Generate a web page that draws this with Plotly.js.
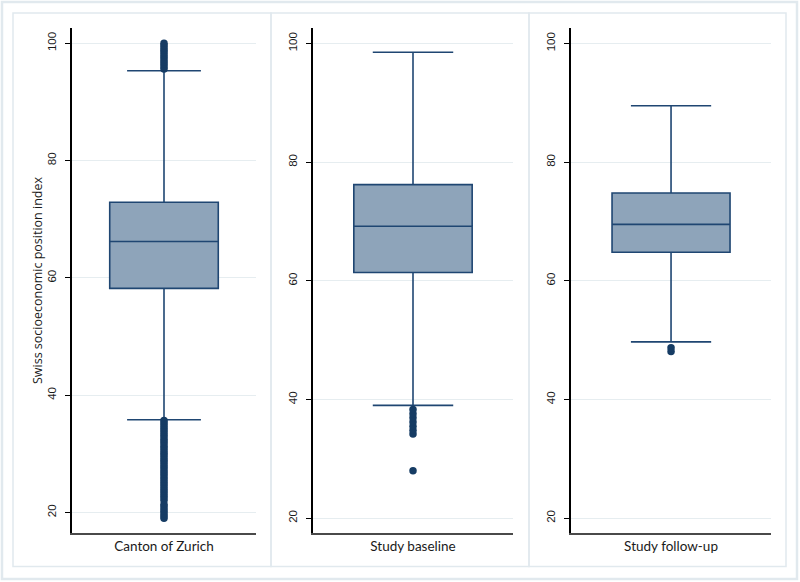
<!DOCTYPE html>
<html>
<head>
<meta charset="utf-8">
<script src="https://cdn.plot.ly/plotly-3.0.1.min.js"></script>
<style>html,body{margin:0;padding:0;background:#fff;}#chart{width:800px;height:582px;}</style>
</head>
<body>
<div id="chart"></div>
<script>
// ---- data ----
const categories = ["Canton of Zurich", "Study baseline", "Study follow-up"];
const q1Values = [58.2, 61.4, 64.8];
const medianValues = [66.2, 69.2, 69.5];
const q3Values = [72.9, 76.2, 74.8];
const lowerWhisker = [35.8, 39.0, 49.7];
const upperWhisker = [95.3, 98.5, 89.5];
const outliersZurich = [19.0, 19.4, 19.8, 20.2, 20.6, 21.0, 21.4,
  22.1, 22.5, 22.9, 23.3, 23.7, 24.1, 24.5, 24.9, 25.3, 25.7, 26.1, 26.5, 26.9,
  27.3, 27.7, 28.1, 28.5, 28.9, 29.3, 29.7, 30.1, 30.5, 30.9, 31.3, 31.7, 32.1,
  32.5, 32.9, 33.3, 33.7, 34.1, 34.5, 34.9, 35.3, 35.7,
  95.6, 96.0, 96.4, 96.8, 97.2, 97.6, 98.0, 98.4, 98.8, 99.2, 99.6, 100.0];
const outliersBaseline = [28.0, 34.2, 34.8, 35.5, 36.2, 36.9, 37.6, 38.3];
const outliersFollowup = [48.1, 48.7];
const outlierSets = [outliersZurich, outliersBaseline, outliersFollowup];
const yTickValues = [20, 40, 60, 80, 100];
const yRanges = [[16.5, 102.6], [17.5, 102.6], [17.5, 102.6]];
const yAxisTitle = "Swiss socioeconomic position index";

// ---- styles ----
const boxFill = "#8ea4ba";
const boxLine = "#1f4672";
const outlierColor = "#163c64";
const gridColor = "#e6edf0";
const frameColor = "#e1e9ee";

const xDomains = [[0.09, 0.32], [0.3909, 0.6416], [0.7138, 0.9638]];
const yDomain = [0.0842, 0.9519];

const traces = [];
categories.forEach((cat, i) => {
  const sfx = i === 0 ? "" : String(i + 1);
  traces.push({
    type: "box",
    x: [cat],
    q1: [q1Values[i]],
    median: [medianValues[i]],
    q3: [q3Values[i]],
    lowerfence: [lowerWhisker[i]],
    upperfence: [upperWhisker[i]],
    boxpoints: false,
    width: 0.59,
    whiskerwidth: 0.68,
    fillcolor: boxFill,
    line: { color: boxLine, width: 1.6 },
    xaxis: "x" + sfx,
    yaxis: "y" + sfx,
    showlegend: false,
    hoverinfo: "skip"
  });
  traces.push({
    type: "scatter",
    mode: "markers",
    x: outlierSets[i].map(() => cat),
    y: outlierSets[i],
    marker: { color: outlierColor, size: 7.5 },
    xaxis: "x" + sfx,
    yaxis: "y" + sfx,
    showlegend: false,
    hoverinfo: "skip"
  });
});

const layout = {
  width: 800,
  height: 582,
  margin: { l: 0, r: 0, t: 0, b: 0 },
  paper_bgcolor: "#ffffff",
  plot_bgcolor: "#ffffff",
  font: { family: "Liberation Sans, Arial, sans-serif", size: 11, color: "#222" },
  showlegend: false,
  shapes: []
};

categories.forEach((cat, i) => {
  const sfx = i === 0 ? "" : String(i + 1);
  layout["xaxis" + sfx] = {
    domain: xDomains[i],
    anchor: "y" + sfx,
    type: "category",
    range: [-0.5, 0.5],
    showline: true,
    linecolor: "#4a4a4a",
    linewidth: 2,
    ticks: "",
    showgrid: false,
    zeroline: false,
    tickfont: { family: "Lato, Open Sans, sans-serif", size: 13.5, color: "#1a1a1a" },
    fixedrange: true
  };
  layout["yaxis" + sfx] = {
    domain: yDomain,
    anchor: "x" + sfx,
    range: yRanges[i],
    tickvals: yTickValues,
    ticktext: yTickValues.map(String),
    tickangle: -90,
    ticks: "outside",
    ticklen: 5,
    tickwidth: 1,
    tickcolor: "#000",
    ticklabelstandoff: 4,
    showline: true,
    linecolor: "#000",
    linewidth: 2,
    showgrid: true,
    gridcolor: gridColor,
    gridwidth: 1,
    zeroline: false,
    tickfont: { family: "Liberation Sans, Arial, sans-serif", size: 11.5, color: "#1a1a1a" },
    fixedrange: true
  };
});
layout.yaxis.title = { text: yAxisTitle, font: { family: "Open Sans, sans-serif", size: 12.5, color: "#1a1a1a" }, standoff: 1 };

// frames
const W = 800, H = 582;
function rect(x0, y0, x1, y1, w) {
  return { type: "rect", xref: "paper", yref: "paper",
    x0: x0 / W, x1: x1 / W, y0: 1 - y1 / H, y1: 1 - y0 / H,
    line: { color: frameColor, width: w }, fillcolor: "rgba(0,0,0,0)", layer: "below" };
}
layout.shapes.push(rect(2, 2, 797, 579, 2.5));
layout.shapes.push(rect(13, 13, 271, 566.5, 1.5));
layout.shapes.push(rect(271, 13, 529, 566.5, 1.5));
layout.shapes.push(rect(529, 13, 786, 566.5, 1.5));

Plotly.newPlot("chart", traces, layout, { staticPlot: true, displayModeBar: false });
</script>
</body>
</html>
